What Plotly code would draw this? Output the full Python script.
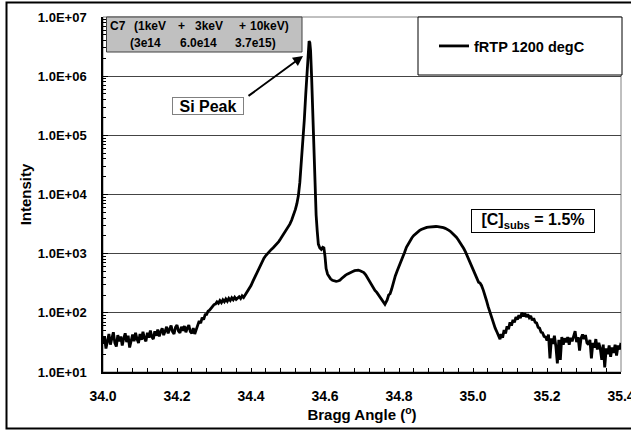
import plotly.graph_objects as go

# ---------------- data ----------------
angle_low = [
    34.000, 34.004, 34.008, 34.012, 34.016, 34.020, 34.024, 34.028, 34.032, 34.036,
    34.040, 34.044, 34.048, 34.052, 34.056, 34.060, 34.064, 34.068, 34.072, 34.076,
    34.080, 34.084, 34.088, 34.092, 34.096, 34.100, 34.104, 34.108, 34.112, 34.116,
    34.120, 34.124, 34.128, 34.132, 34.136, 34.140, 34.144, 34.148, 34.152, 34.156,
    34.160, 34.164, 34.168, 34.172, 34.176, 34.180, 34.184, 34.188, 34.192, 34.196,
    34.200, 34.204, 34.208, 34.212, 34.216, 34.220, 34.224, 34.228, 34.232, 34.236,
    34.240, 34.244, 34.248, 34.252, 34.256, 34.260, 34.264, 34.268, 34.272, 34.276,
    34.280, 34.284, 34.288, 34.292, 34.296, 34.300, 34.304, 34.308, 34.312, 34.316,
    34.320, 34.324, 34.328, 34.332, 34.336, 34.340, 34.344, 34.348, 34.352, 34.356,
    34.360, 34.364, 34.368, 34.372, 34.376, 34.380, 34.384, 34.388, 34.392, 34.396]
intensity_low = [
    30, 40, 25, 34, 44, 29, 37, 47, 31, 27,
    42, 33, 40, 28, 37, 45, 32, 41, 26, 36,
    43, 33, 46, 36, 31, 44, 35, 48, 37, 33,
    46, 38, 50, 39, 36, 49, 41, 52, 40, 48,
    55, 42, 51, 58, 45, 54, 61, 48, 44, 57,
    62, 49, 46, 58, 50, 60, 47, 56, 62, 48,
    45, 55, 44, 52, 64, 73, 67, 83, 77, 93,
    94, 107, 111, 121, 127, 138, 141, 153, 145, 161,
    149, 166, 154, 171, 157, 175, 162, 179, 166, 183,
    169, 181, 187, 174, 193, 182, 199, 212, 235, 258]

angle_shoulder = [
    34.400, 34.405, 34.410, 34.415, 34.420, 34.425, 34.430, 34.435, 34.440, 34.445,
    34.450, 34.455, 34.460, 34.465, 34.470, 34.475, 34.480, 34.485, 34.490, 34.495,
    34.500, 34.505, 34.510, 34.515, 34.520, 34.524, 34.528]
intensity_shoulder = [
    290, 340, 400, 465, 550, 640, 740, 840, 930, 1020,
    1100, 1180, 1260, 1350, 1450, 1600, 1780, 1980, 2200, 2450,
    2750, 3150, 3700, 4500, 5600, 7000, 9500]

angle_si = [
    34.532, 34.536, 34.540, 34.544, 34.548, 34.552, 34.555, 34.557, 34.559, 34.561,
    34.564, 34.567, 34.570, 34.573, 34.576, 34.579, 34.582, 34.586, 34.590, 34.594,
    34.597, 34.600, 34.603, 34.607, 34.611, 34.615, 34.620, 34.625, 34.630, 34.635,
    34.640, 34.645, 34.650, 34.655, 34.660, 34.665, 34.670, 34.675, 34.680, 34.685,
    34.690, 34.695, 34.700, 34.705, 34.710, 34.715, 34.720, 34.725, 34.730, 34.735,
    34.740, 34.745, 34.750, 34.754, 34.758, 34.762, 34.765, 34.768, 34.772, 34.776]
intensity_si = [
    16000, 32000, 75000, 180000, 500000, 1400000, 2900000, 3900000, 3700000, 2700000,
    900000, 200000, 45000, 11000, 4500, 2400, 1450, 1250, 1180, 1280,
    1250, 900, 560, 450, 400, 375, 355, 345, 340, 345,
    355, 380, 410, 430, 450, 470, 485, 500, 515, 525,
    525, 515, 500, 480, 440, 390, 345, 300, 265, 240,
    222, 200, 178, 160, 148, 140, 152, 165, 200, 210]

angle_layer = [
    34.780, 34.785, 34.790, 34.795, 34.800, 34.805, 34.810, 34.815, 34.820, 34.825,
    34.830, 34.835, 34.840, 34.845, 34.850, 34.855, 34.860, 34.865, 34.870, 34.875,
    34.880, 34.885, 34.890, 34.895, 34.900, 34.905, 34.910, 34.915, 34.920, 34.925,
    34.930, 34.935, 34.940, 34.945, 34.950, 34.955, 34.960, 34.965, 34.970, 34.975,
    34.980, 34.985, 34.990, 34.995, 35.000, 35.005, 35.010, 35.015, 35.019, 35.023,
    35.028, 35.032, 35.036, 35.041, 35.046, 35.050, 35.055, 35.060, 35.065, 35.070,
    35.073]
intensity_layer = [
    250, 330, 420, 510, 600, 720, 880, 1050, 1280, 1480,
    1680, 1860, 2030, 2180, 2320, 2450, 2560, 2650, 2720, 2780,
    2820, 2850, 2870, 2880, 2880, 2870, 2850, 2800, 2750, 2680,
    2600, 2480, 2350, 2200, 2050, 1900, 1720, 1550, 1380, 1220,
    1060, 900, 760, 640, 530, 440, 380, 330, 320, 290,
    240, 190, 165, 127, 100, 86, 66, 55, 47, 40,
    36]

angle_high = [
    35.076, 35.080, 35.084, 35.088, 35.092, 35.096, 35.100, 35.104, 35.108, 35.112,
    35.116, 35.120, 35.124, 35.128, 35.132, 35.136, 35.140, 35.144, 35.148, 35.152,
    35.156, 35.160, 35.164, 35.168, 35.172, 35.176, 35.180, 35.184, 35.188, 35.192,
    35.196, 35.200, 35.204, 35.208, 35.212, 35.216, 35.220, 35.224, 35.228, 35.232,
    35.236, 35.240, 35.244, 35.248, 35.252, 35.256, 35.260, 35.264, 35.268, 35.272,
    35.276, 35.280, 35.284, 35.288, 35.292, 35.296, 35.300, 35.304, 35.308, 35.312,
    35.316, 35.320, 35.324, 35.328, 35.332, 35.336, 35.340, 35.344, 35.348, 35.352,
    35.356, 35.360, 35.364, 35.368, 35.372, 35.376, 35.380, 35.384, 35.388, 35.392,
    35.396, 35.400]
intensity_high = [
    44, 38, 51, 45, 59, 53, 69, 61, 76, 69,
    85, 77, 91, 81, 101, 87, 98, 85, 94, 83,
    89, 75, 81, 69, 67, 57, 55, 47, 46, 40,
    39, 34, 43, 17, 37, 30, 41, 27, 14, 35,
    16, 39, 29, 37, 32, 39, 29, 38, 33, 41,
    49, 32, 39, 23, 37, 43, 36, 42, 31, 29,
    35, 17, 31, 26, 36, 24, 31, 25, 16, 29,
    12, 25, 20, 28, 18, 26, 21, 29, 19, 28,
    24, 31]

series_name = "fRTP 1200 degC"

x_tickvals = [34.0, 34.2, 34.4, 34.6, 34.8, 35.0, 35.2, 35.4]
x_ticktext = ["34.0", "34.2", "34.4", "34.6", "34.8", "35.0", "35.2", "35.4"]
y_tickvals = [1e1, 1e2, 1e3, 1e4, 1e5, 1e6, 1e7]
y_ticktext = ["1.0E+01", "1.0E+02", "1.0E+03", "1.0E+04", "1.0E+05", "1.0E+06", "1.0E+07"]

implant_line1 = ["C7", "(1keV", "+", "3keV", "+", "10keV)"]
implant_line2 = ["(3e14", "6.0e14", "3.7e15)"]

# ---------------- assemble ----------------
angle = angle_low + angle_shoulder + angle_si + angle_layer + angle_high
intensity = intensity_low + intensity_shoulder + intensity_si + intensity_layer + intensity_high
assert len(angle) == len(intensity)

W, H = 631, 431
L, R, T, B = 103, 621, 17, 372


def px(x):
    return (x - L) / (R - L)


def py(y):
    return (B - y) / (B - T)


FONT = "Arial, Liberation Sans, sans-serif"


def bold(size):
    return dict(family=FONT, size=size, color="black", weight="bold")


fig = go.Figure()
fig.add_trace(go.Scatter(x=angle, y=intensity, mode="lines", name=series_name,
                         line=dict(color="black", width=2.8)))

shapes = [
    # outer chart border
    dict(type="rect", xref="paper", yref="paper", x0=px(6.5), x1=px(660), y0=py(428.5), y1=py(2.5),
         line=dict(color="black", width=2), fillcolor="rgba(0,0,0,0)", layer="above"),
    # plot area border (grey)
    dict(type="rect", xref="paper", yref="paper", x0=0, x1=1, y0=0, y1=1,
         line=dict(color="#808080", width=1), fillcolor="rgba(0,0,0,0)", layer="below"),
    # implant recipe box
    dict(type="rect", xref="paper", yref="paper", x0=px(106.5), x1=px(302), y0=py(52), y1=py(17),
         line=dict(color="#404040", width=1), fillcolor="#c0c0c0", layer="above"),
    # legend box
    dict(type="rect", xref="paper", yref="paper", x0=px(418), x1=px(622), y0=py(75), y1=py(17),
         line=dict(color="black", width=1), fillcolor="white", layer="above"),
]

annotations = []
line1_left = [108, 132, 176, 193, 237, 248]
for txt, xl in zip(implant_line1, line1_left):
    annotations.append(dict(text=txt, xref="paper", yref="paper", x=px(xl), y=py(26),
                            xanchor="left", yanchor="middle", showarrow=False, font=bold(12)))
line2_left = [128, 178, 233]
for txt, xl in zip(implant_line2, line2_left):
    annotations.append(dict(text=txt, xref="paper", yref="paper", x=px(xl), y=py(43),
                            xanchor="left", yanchor="middle", showarrow=False, font=bold(12)))

annotations.append(dict(text="Si Peak", xref="paper", yref="paper", x=px(207.5), y=py(106),
                        xanchor="center", yanchor="middle", showarrow=False, font=bold(16),
                        bgcolor="white", bordercolor="#808080", borderwidth=1, borderpad=0,
                        width=70, height=16))
annotations.append(dict(text="", xref="paper", yref="paper", x=px(303), y=py(56),
                        ax=247 - 303, ay=97 - 56, showarrow=True, arrowhead=2, arrowsize=1,
                        arrowwidth=2, arrowcolor="black"))
annotations.append(dict(text="[C]<sub>subs</sub> = 1.5%", xref="paper", yref="paper",
                        x=px(533), y=py(221), xanchor="center", yanchor="middle", showarrow=False,
                        font=bold(16), bgcolor="white", bordercolor="black", borderwidth=1,
                        borderpad=0, width=122, height=22))

fig.update_layout(
    width=W, height=H, autosize=False,
    margin=dict(l=L, r=W - R, t=T, b=H - B, pad=0, autoexpand=False),
    paper_bgcolor="white", plot_bgcolor="white",
    showlegend=True,
    legend=dict(x=px(434), y=py(46), xanchor="left", yanchor="middle",
                bgcolor="rgba(0,0,0,0)", borderwidth=0, font=bold(14.5)),
    shapes=shapes, annotations=annotations,
    xaxis=dict(range=[34.0, 35.4], tickvals=x_tickvals, ticktext=x_ticktext, automargin=False,
               ticks="inside", ticklen=4, tickcolor="black", tickwidth=1,
               minor=dict(ticks="inside", ticklen=4, dtick=0.04, tickcolor="black", showgrid=False),
               showline=True, linecolor="black", linewidth=1.5, showgrid=False, zeroline=False,
               tickfont=bold(14), ticklabelstandoff=10, ticklabeloverflow="allow",
               title=dict(text="Bragg Angle (<sup>o</sup>)", font=bold(15), standoff=0)),
    yaxis=dict(type="log", range=[1, 7], tickvals=y_tickvals, ticktext=y_ticktext, automargin=False,
               ticks="inside", ticklen=5, tickcolor="black", tickwidth=1,
               minor=dict(ticks="inside", ticklen=3, dtick="D1", tickcolor="black", showgrid=False),
               showline=True, linecolor="black", linewidth=1.5,
               showgrid=True, gridcolor="#444444", gridwidth=1, zeroline=False,
               tickfont=bold(13), ticklabelstandoff=12,
               title=dict(text="Intensity", font=bold(15), standoff=3)),
)

fig.write_html("out.html", config={"displayModeBar": False},
               post_script="document.body.style.margin='0';")
